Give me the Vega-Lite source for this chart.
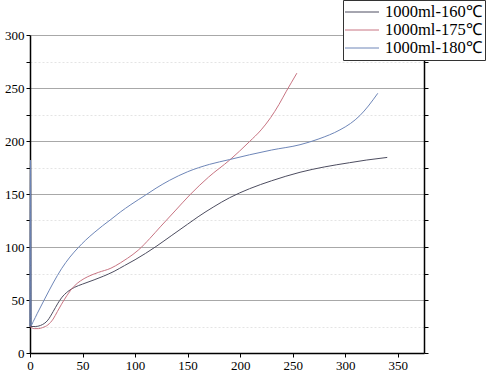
{
  "$schema": "https://vega.github.io/schema/vega-lite/v6.json",
  "width": 394,
  "height": 318,
  "autosize": "none",
  "padding": {"left": 30, "top": 35, "right": 63, "bottom": 23},
  "background": "white",
  "config": {"view": {"stroke": null}, "font": "Liberation Serif"},
  "data": {"values": [
    {"t": 0, "v": 25, "s": "1000ml-160℃"}, {"t": 0.5, "v": 182, "s": "1000ml-160℃"}, {"t": 1, "v": 25, "s": "1000ml-160℃"},
    {"t": 5, "v": 25, "s": "1000ml-160℃"}, {"t": 10, "v": 26, "s": "1000ml-160℃"},
    {"t": 17, "v": 31, "s": "1000ml-160℃"}, {"t": 22, "v": 39, "s": "1000ml-160℃"}, {"t": 26.6, "v": 47, "s": "1000ml-160℃"},
    {"t": 30, "v": 52, "s": "1000ml-160℃"}, {"t": 36, "v": 58, "s": "1000ml-160℃"}, {"t": 42.5, "v": 62, "s": "1000ml-160℃"},
    {"t": 50, "v": 65, "s": "1000ml-160℃"}, {"t": 61, "v": 69, "s": "1000ml-160℃"}, {"t": 70, "v": 72.5, "s": "1000ml-160℃"},
    {"t": 80, "v": 77, "s": "1000ml-160℃"}, {"t": 90, "v": 82.5, "s": "1000ml-160℃"}, {"t": 100, "v": 88, "s": "1000ml-160℃"},
    {"t": 110, "v": 94, "s": "1000ml-160℃"}, {"t": 120, "v": 100.5, "s": "1000ml-160℃"}, {"t": 135, "v": 111, "s": "1000ml-160℃"},
    {"t": 150, "v": 121.5, "s": "1000ml-160℃"}, {"t": 160, "v": 128.5, "s": "1000ml-160℃"}, {"t": 175, "v": 138, "s": "1000ml-160℃"},
    {"t": 190, "v": 146.5, "s": "1000ml-160℃"}, {"t": 209, "v": 155, "s": "1000ml-160℃"}, {"t": 230, "v": 162.5, "s": "1000ml-160℃"},
    {"t": 257, "v": 170.5, "s": "1000ml-160℃"}, {"t": 280, "v": 175.5, "s": "1000ml-160℃"}, {"t": 304, "v": 179.5, "s": "1000ml-160℃"},
    {"t": 320, "v": 182, "s": "1000ml-160℃"}, {"t": 340, "v": 184.5, "s": "1000ml-160℃"},

    {"t": 0, "v": 25, "s": "1000ml-175℃"}, {"t": 4, "v": 23, "s": "1000ml-175℃"}, {"t": 8, "v": 23, "s": "1000ml-175℃"},
    {"t": 12, "v": 24, "s": "1000ml-175℃"}, {"t": 17, "v": 26.5, "s": "1000ml-175℃"}, {"t": 22, "v": 32, "s": "1000ml-175℃"},
    {"t": 26, "v": 39, "s": "1000ml-175℃"}, {"t": 30, "v": 46, "s": "1000ml-175℃"}, {"t": 35, "v": 54, "s": "1000ml-175℃"},
    {"t": 42, "v": 63, "s": "1000ml-175℃"}, {"t": 48, "v": 68, "s": "1000ml-175℃"}, {"t": 55, "v": 72, "s": "1000ml-175℃"},
    {"t": 65, "v": 76, "s": "1000ml-175℃"}, {"t": 77, "v": 80, "s": "1000ml-175℃"}, {"t": 86, "v": 85, "s": "1000ml-175℃"},
    {"t": 93, "v": 89.5, "s": "1000ml-175℃"}, {"t": 98, "v": 93, "s": "1000ml-175℃"}, {"t": 103, "v": 97, "s": "1000ml-175℃"},
    {"t": 114, "v": 108, "s": "1000ml-175℃"}, {"t": 124, "v": 119, "s": "1000ml-175℃"}, {"t": 138, "v": 134, "s": "1000ml-175℃"},
    {"t": 152, "v": 149, "s": "1000ml-175℃"}, {"t": 170, "v": 166, "s": "1000ml-175℃"}, {"t": 190, "v": 182, "s": "1000ml-175℃"},
    {"t": 209, "v": 199.5, "s": "1000ml-175℃"}, {"t": 220, "v": 210.5, "s": "1000ml-175℃"}, {"t": 229, "v": 222, "s": "1000ml-175℃"},
    {"t": 237, "v": 234.5, "s": "1000ml-175℃"}, {"t": 244, "v": 247, "s": "1000ml-175℃"}, {"t": 249, "v": 255.5, "s": "1000ml-175℃"},
    {"t": 254, "v": 264, "s": "1000ml-175℃"},

    {"t": 0, "v": 25, "s": "1000ml-180℃"}, {"t": 0.5, "v": 182, "s": "1000ml-180℃"}, {"t": 1, "v": 26, "s": "1000ml-180℃"},
    {"t": 3, "v": 29.5, "s": "1000ml-180℃"}, {"t": 7, "v": 37.5, "s": "1000ml-180℃"}, {"t": 14, "v": 51, "s": "1000ml-180℃"},
    {"t": 22, "v": 66, "s": "1000ml-180℃"}, {"t": 30, "v": 79.5, "s": "1000ml-180℃"}, {"t": 38, "v": 90.5, "s": "1000ml-180℃"},
    {"t": 46, "v": 99.5, "s": "1000ml-180℃"}, {"t": 53, "v": 106.5, "s": "1000ml-180℃"}, {"t": 61, "v": 113.5, "s": "1000ml-180℃"},
    {"t": 69, "v": 120, "s": "1000ml-180℃"}, {"t": 77, "v": 126, "s": "1000ml-180℃"}, {"t": 86, "v": 133, "s": "1000ml-180℃"},
    {"t": 96, "v": 140, "s": "1000ml-180℃"}, {"t": 110, "v": 149, "s": "1000ml-180℃"}, {"t": 120, "v": 155.5, "s": "1000ml-180℃"},
    {"t": 133, "v": 163, "s": "1000ml-180℃"}, {"t": 150, "v": 171, "s": "1000ml-180℃"}, {"t": 171, "v": 178, "s": "1000ml-180℃"},
    {"t": 190, "v": 182.5, "s": "1000ml-180℃"}, {"t": 209, "v": 187, "s": "1000ml-180℃"}, {"t": 230, "v": 191.5, "s": "1000ml-180℃"},
    {"t": 257, "v": 196.5, "s": "1000ml-180℃"}, {"t": 275, "v": 202, "s": "1000ml-180℃"}, {"t": 295, "v": 210.5, "s": "1000ml-180℃"},
    {"t": 305, "v": 216.5, "s": "1000ml-180℃"}, {"t": 314, "v": 224, "s": "1000ml-180℃"}, {"t": 322, "v": 233, "s": "1000ml-180℃"},
    {"t": 331, "v": 245, "s": "1000ml-180℃"}
  ]},
  "layer": [
    {
      "mark": {"type": "line", "strokeWidth": 1, "interpolate": "monotone"},
      "encoding": {
        "x": {"field": "t", "type": "quantitative",
              "scale": {"domain": [0, 375], "nice": false, "zero": true},
              "axis": {"title": null, "values": [0,25,50,75,100,125,150,175,200,225,250,275,300,325,350,375],
                       "labelExpr": "datum.value % 50 == 0 && datum.value < 375 ? datum.label : ''",
                       "labelOverlap": false,
                       "grid": false, "domainColor": "#000", "domainWidth": 1.5, "tickColor": "#000",
                       "tickSize": 4, "labelFontSize": 13, "labelColor": "#000", "labelPadding": 2,
                       "labelFont": "Liberation Serif", "labelFlush": false}},
        "y": {"field": "v", "type": "quantitative",
              "scale": {"domain": [0, 300], "nice": false},
              "axis": {"title": null, "values": [0,25,50,75,100,125,150,175,200,225,250,275,300],
                       "labelExpr": "datum.value % 50 == 0 ? datum.label : ''",
                       "labelOverlap": false,
                       "grid": true,
                       "gridColor": {"condition": {"test": "datum.value % 50 == 0", "value": "#a8a8a8"}, "value": "#e4e4e4"},
                       "gridDash": {"condition": {"test": "datum.value % 50 == 0", "value": []}, "value": [2, 2]},
                       "gridWidth": 1,
                       "domainColor": "#000", "domainWidth": 1.5, "tickColor": "#000",
                       "tickSize": 4, "labelFontSize": 13, "labelColor": "#000", "labelPadding": 2,
                       "labelFont": "Liberation Serif", "labelFlush": false}},
        "color": {"field": "s", "type": "nominal",
                  "scale": {"domain": ["1000ml-160℃", "1000ml-175℃", "1000ml-180℃"],
                            "range": ["#4d4d60", "#c87482", "#6e86b8"]},
                  "legend": {"title": null, "orient": "none", "legendX": 313, "legendY": -35,
                             "fillColor": "white", "strokeColor": "#333", "padding": 3,
                             "symbolType": "M-2,0H2", "symbolSize": 289, "symbolStrokeWidth": 1,
                             "symbolOffset": 7, "rowPadding": 0, "labelFontSize": 16.5, "labelFont": "Liberation Serif",
                             "labelColor": "#000", "labelLimit": 200, "labelOffset": 14}}
      }
    },
    {
      "mark": {"type": "point", "opacity": 0},
      "encoding": {
        "x": {"field": "t", "type": "quantitative"},
        "y": {"field": "v", "type": "quantitative",
              "axis": {"orient": "right", "title": null, "labels": false, "grid": false,
                       "values": [0,25,50,75,100,125,150,175,200,225,250,275,300],
                       "domainColor": "#000", "domainWidth": 1.5, "tickColor": "#000", "tickSize": 4}}
      }
    }
  ],
  "resolve": {"axis": {"y": "independent"}}
}
